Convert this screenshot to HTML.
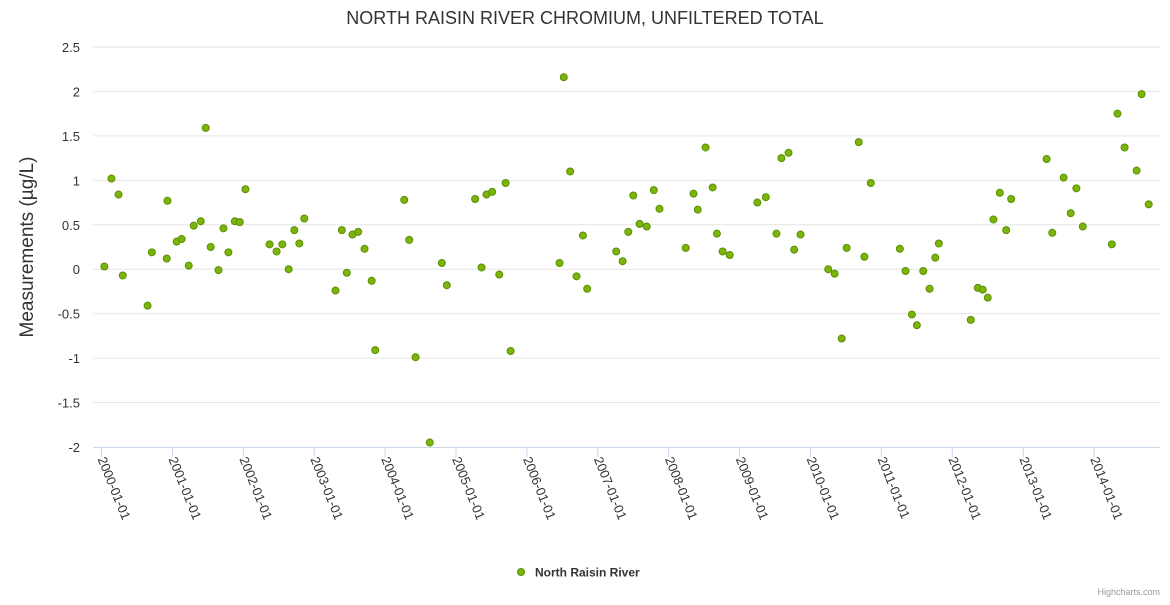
<!DOCTYPE html>
<html><head><meta charset="utf-8"><style>
body{margin:0;background:#fff;}
svg{font-family:"Liberation Sans","DejaVu Sans",sans-serif;}
</style></head><body>
<svg id="chart" width="1170" height="600" xmlns="http://www.w3.org/2000/svg">
<rect width="1170" height="600" fill="#fff"/>
<text x="585" y="24" text-anchor="middle" font-size="18" fill="#333">NORTH RAISIN RIVER CHROMIUM, UNFILTERED TOTAL</text>
<text transform="translate(33,247) rotate(-90)" text-anchor="middle" font-size="19" fill="#333">Measurements (µg/L)</text>
<g id="grid"></g><g id="yticks"></g><g id="xticks"></g><g id="points"></g>
<g>
<circle cx="521" cy="572" r="3.5" fill="#7cb50a" stroke="#5a8f00" stroke-width="1"/>
<text x="535" y="576.5" font-size="12" font-weight="bold" fill="#333">North Raisin River</text>
</g>
<text x="1160" y="595" text-anchor="end" font-size="9" fill="#999">Highcharts.com</text>
</svg>
<script>
const yTicks=[2.5,2,1.5,1,0.5,0,-0.5,-1,-1.5,-2];
const yTickLabels=["2.5","2","1.5","1","0.5","0","-0.5","-1","-1.5","-2"];
const xTickYears=[2000,2001,2002,2003,2004,2005,2006,2007,2008,2009,2010,2011,2012,2013,2014];
const xTickLabels=xTickYears.map(y=>y+"-01-01");
const sampleYears=[2000.04,2000.14,2000.24,2000.30,2000.65,2000.71,2000.92,2000.93,2001.06,2001.13,2001.23,2001.30,2001.40,2001.47,2001.54,2001.65,2001.72,2001.79,2001.88,2001.95,2002.03,2002.37,2002.47,2002.55,2002.64,2002.72,2002.79,2002.86,2003.30,2003.39,2003.46,2003.54,2003.62,2003.71,2003.81,2003.86,2004.27,2004.34,2004.43,2004.63,2004.80,2004.87,2005.27,2005.36,2005.43,2005.51,2005.61,2005.70,2005.77,2006.46,2006.52,2006.61,2006.70,2006.79,2006.85,2007.26,2007.35,2007.43,2007.50,2007.59,2007.69,2007.79,2007.87,2008.24,2008.35,2008.41,2008.52,2008.62,2008.68,2008.76,2008.86,2009.25,2009.37,2009.52,2009.59,2009.69,2009.77,2009.86,2010.25,2010.34,2010.44,2010.51,2010.68,2010.76,2010.85,2011.26,2011.34,2011.43,2011.50,2011.59,2011.68,2011.76,2011.81,2012.26,2012.36,2012.43,2012.50,2012.58,2012.67,2012.76,2012.83,2013.33,2013.41,2013.57,2013.67,2013.75,2013.84,2014.25,2014.33,2014.43,2014.60,2014.67,2014.77];
const sampleValues=[0.03,1.02,0.84,-0.07,-0.41,0.19,0.12,0.77,0.31,0.34,0.04,0.49,0.54,1.59,0.25,-0.01,0.46,0.19,0.54,0.53,0.9,0.28,0.2,0.28,0.0,0.44,0.29,0.57,-0.24,0.44,-0.04,0.39,0.42,0.23,-0.13,-0.91,0.78,0.33,-0.99,-1.95,0.07,-0.18,0.79,0.02,0.84,0.87,-0.06,0.97,-0.92,0.07,2.16,1.1,-0.08,0.38,-0.22,0.2,0.09,0.42,0.83,0.51,0.48,0.89,0.68,0.24,0.85,0.67,1.37,0.92,0.4,0.2,0.16,0.75,0.81,0.4,1.25,1.31,0.22,0.39,0.0,-0.05,-0.78,0.24,1.43,0.14,0.97,0.23,-0.02,-0.51,-0.63,-0.02,-0.22,0.13,0.29,-0.57,-0.21,-0.23,-0.32,0.56,0.86,0.44,0.79,1.24,0.41,1.03,0.63,0.91,0.48,0.28,1.75,1.37,1.11,1.97,0.73];
const NS="http://www.w3.org/2000/svg";
const X0=93,X1=1160,Y0=447,Y1=47;
function xs(yr){return 101.5+(yr-2000)*70.9;}
function ys(v){return Y0-(v+2)/4.5*(Y0-Y1);}
function mk(tag,attrs,parent){const e=document.createElementNS(NS,tag);for(const k in attrs)e.setAttribute(k,attrs[k]);document.getElementById(parent).appendChild(e);return e;}
yTicks.forEach((t,i)=>{
  const y=ys(t);
  if(t!==-2){const l=mk('line',{x1:X0,x2:X1,y1:y,y2:y,stroke:'#e6e6e6','stroke-width':1},'grid');
  
  }
  const tx=mk('text',{x:80,y:y+5,'text-anchor':'end','font-size':13,fill:'#333'},'yticks');
  tx.textContent=yTickLabels[i];
  
  
});
const ax=mk('line',{x1:X0,x2:X1,y1:Y0+0.5,y2:Y0+0.5,stroke:'#ccd6eb','stroke-width':1},'xticks');


xTickYears.forEach((yr,i)=>{
  const x=xs(yr);
  const tk=mk('line',{x1:x,x2:x,y1:Y0,y2:Y0+10,stroke:'#ccd6eb','stroke-width':1},'xticks');
  
  
  const tx=mk('text',{transform:`translate(${x-4},${Y0+12}) rotate(68)`,'font-size':13,fill:'#333'},'xticks');
  tx.textContent=xTickLabels[i];
  
  
});
sampleYears.forEach((yr,i)=>{
  const c=mk('circle',{cx:xs(yr),cy:ys(sampleValues[i]),r:3.5,fill:'#7cb50a',stroke:'#5a8f00','stroke-width':1},'points');
  
  
});
</script>
</body></html>
